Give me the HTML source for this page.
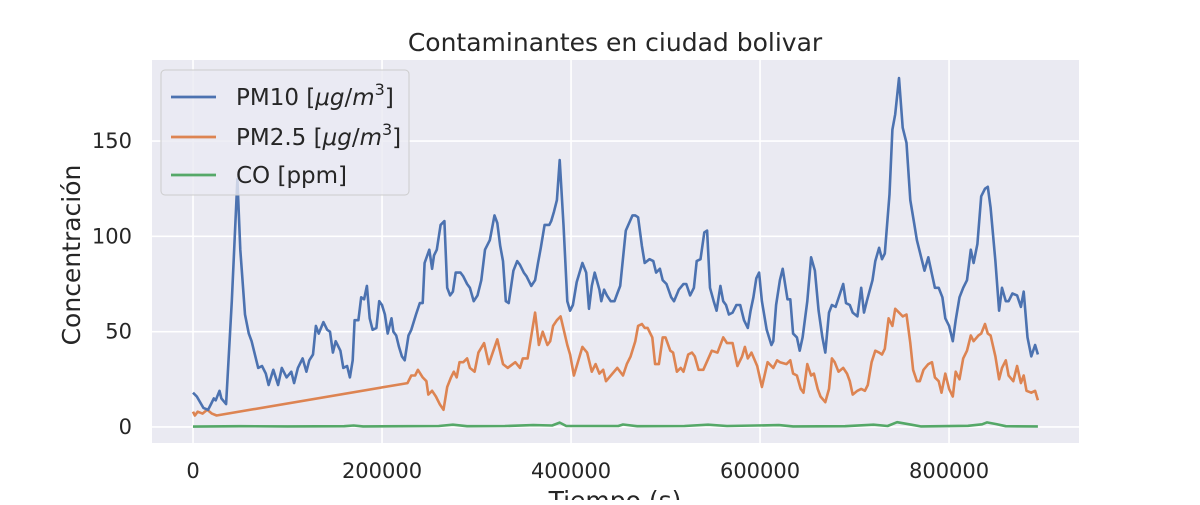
<!DOCTYPE html>
<html><head><meta charset="utf-8"><style>
body{margin:0;background:#fff;font-family:"Liberation Sans","DejaVu Sans",sans-serif}
svg text{font-family:"DejaVu Sans","Liberation Sans",sans-serif;fill:#262626}
</style></head><body>
<svg id="chart" width="1200" height="500" viewBox="0 0 1200 500" xmlns="http://www.w3.org/2000/svg">
<rect x="0" y="0" width="1200" height="500" fill="#fff"/>
<rect x="152" y="60" width="927" height="383" fill="#eaeaf2"/>
<g id="grid"></g>
<g id="ticks"></g>
<g id="series"></g>
<text x="615" y="51" text-anchor="middle" font-size="25">Contaminantes en ciudad bolivar</text>
<text x="80" y="255" text-anchor="middle" font-size="25" transform="rotate(-90 80 255)">Concentración</text>
<text x="615" y="509" text-anchor="middle" font-size="25">Tiempo (s)</text>
<g>
<rect x="161" y="70" width="248" height="125" rx="4" fill="#eaeaf2" fill-opacity="0.8" stroke="#cccccc" stroke-width="1"/>
<line x1="171" y1="97" x2="216" y2="97" stroke="#4c72b0" stroke-width="2.7"/>
<text x="236" y="105" font-size="23">PM10 [<tspan font-style="italic">μg</tspan>/<tspan font-style="italic">m</tspan><tspan font-size="16" dy="-10">3</tspan><tspan dy="10">]</tspan></text>
<line x1="171" y1="137" x2="216" y2="137" stroke="#dd8452" stroke-width="2.7"/>
<text x="236" y="145" font-size="23">PM2.5 [<tspan font-style="italic">μg</tspan>/<tspan font-style="italic">m</tspan><tspan font-size="16" dy="-10">3</tspan><tspan dy="10">]</tspan></text>
<line x1="171" y1="175" x2="216" y2="175" stroke="#55a868" stroke-width="2.7"/>
<text x="236" y="183" font-size="23">CO [ppm]</text>
</g>
</svg>
<script>
const xTicks=[0,200000,400000,600000,800000];
const yTicks=[0,50,100,150];
// times in thousands of seconds, values in concentration units
const pm10T=[0,4,11,16,19,22,24,28,30,35,41,47,50,55,59,62,69,73,77,80,85,90,94,99,104,107,111,116,120,123,127,130,133,138,142,145,148,151,156,159,163,166,169,171,175,178,181,184,187,190,194,197,200,203,206,210,212,215,218,221,224,228,231,236,240,243,245,250,253,255,258,262,266,269,272,275,278,283,286,290,293,297,301,305,309,314,319,322,325,328,331,334,339,343,346,350,353,358,362,365,368,372,377,379,382,385,388,392,396,399,402,406,412,416,419,422,425,430,432,435,438,442,446,449,452,458,465,468,471,475,478,483,487,490,494,497,501,506,509,514,519,522,526,530,533,537,541,544,547,551,554,558,561,564,567,571,575,579,583,587,590,593,596,599,602,607,612,614,617,621,624,629,632,635,639,642,645,650,654,658,662,666,669,673,676,680,684,688,691,695,698,703,707,710,713,719,722,726,729,732,737,740,743,747,751,755,759,763,766,770,774,778,782,785,789,793,796,800,804,807,811,815,819,823,826,830,834,838,841,844,849,853,856,860,863,867,872,876,879,883,887,891,894];
const pm10V=[18,16,10,9,12,15,14,19,15,12,66,130,93,59,49,45,31,32,28,22,30,22,31,26,29,23,31,36,29,35,38,53,49,55,51,50,39,45,40,31,32,26,35,56,56,68,67,74,57,51,52,66,64,59,49,57,50,48,42,37,35,48,51,59,65,65,86,93,83,90,93,106,108,73,69,71,81,81,79,75,73,66,69,77,93,98,111,107,95,87,66,65,82,87,85,81,79,74,77,86,94,106,106,108,113,119,140,106,66,61,64,76,86,81,62,74,81,72,66,72,69,66,66,70,74,103,111,111,110,95,86,88,87,81,83,77,75,68,66,72,75,75,69,73,87,88,102,103,73,66,61,74,66,64,59,60,64,64,56,52,61,68,78,81,66,51,43,45,64,77,83,67,67,49,47,40,47,66,89,82,61,47,39,60,64,63,69,75,65,64,60,58,73,60,66,77,87,94,88,91,122,156,164,183,157,149,119,107,98,90,82,89,80,73,73,68,57,53,45,56,68,73,77,93,86,96,121,125,126,115,87,61,73,66,66,70,69,63,71,47,37,43,38];
const pm25T=[0,2,5,10,15,20,25,227,231,235,238,243,247,249,253,257,261,265,269,273,276,279,282,286,290,293,298,302,308,313,322,328,333,341,346,349,354,362,366,370,375,378,381,385,389,396,399,403,412,417,422,426,430,434,437,449,455,459,463,468,471,475,478,481,486,489,493,497,500,505,508,512,516,519,524,528,531,535,540,549,555,561,565,571,576,581,584,587,591,597,602,608,614,618,621,628,632,635,639,643,646,650,654,657,661,664,669,673,676,679,683,688,692,695,698,703,707,711,714,718,722,726,729,732,736,740,743,747,751,755,759,762,766,769,773,778,782,785,789,792,796,800,804,807,811,815,819,823,826,831,834,838,841,844,849,853,856,860,863,868,872,876,879,882,887,891,894];
const pm25V=[8,6,8,7,9,7,6,23,27,27,30,26,24,17,19,16,12,9,21,26,29,26,34,34,36,31,29,39,44,33,46,33,31,34,31,36,36,60,43,50,43,45,53,56,58,43,38,27,42,39,29,33,28,30,24,31,27,33,37,45,53,54,52,52,47,33,33,47,47,40,39,29,31,29,38,39,37,30,30,40,39,47,44,44,32,37,42,36,39,32,21,34,31,35,34,33,35,28,27,20,18,33,27,28,20,16,13,20,36,34,29,31,28,24,17,19,20,19,22,34,40,39,38,41,57,53,62,60,58,59,44,30,24,24,30,33,34,26,24,18,28,20,16,29,25,36,40,48,45,48,49,54,49,48,37,25,31,35,27,24,32,23,27,19,18,19,14];
const coT=[0,50,100,160,170,180,260,275,290,330,360,380,388,395,450,455,470,520,545,565,620,635,690,720,735,745,760,770,820,835,840,850,860,894];
const coV=[0.2,0.4,0.3,0.4,0.8,0.3,0.5,1.2,0.4,0.5,1.0,0.8,2.3,0.5,0.5,1.3,0.4,0.5,1.2,0.5,1.0,0.3,0.4,1.2,0.5,2.5,1.2,0.3,0.6,1.4,2.4,1.5,0.4,0.3];

const NS='http://www.w3.org/2000/svg';
const L=152,R=1079,T=60,B=443;
const xMin=-43400,xMax=937500,yMin=-8.4,yMax=192.5;
function sx(v){return L+(v-xMin)/(xMax-xMin)*(R-L);}
function sy(v){return B-(v-yMin)/(yMax-yMin)*(B-T);}
const grid=document.getElementById('grid'),ticks=document.getElementById('ticks'),series=document.getElementById('series');
xTicks.forEach(t=>{
  const l=document.createElementNS(NS,'line');
  l.setAttribute('x1',sx(t));l.setAttribute('x2',sx(t));l.setAttribute('y1',T);l.setAttribute('y2',B);
  l.setAttribute('stroke','#fff');l.setAttribute('stroke-width','1.6');
  
  
  grid.appendChild(l);
  const tx=document.createElementNS(NS,'text');
  tx.setAttribute('x',sx(t));tx.setAttribute('y',478);tx.setAttribute('text-anchor','middle');tx.setAttribute('font-size','21');
  tx.textContent=String(t);
  
  
  ticks.appendChild(tx);
});
yTicks.forEach(t=>{
  const l=document.createElementNS(NS,'line');
  l.setAttribute('x1',L);l.setAttribute('x2',R);l.setAttribute('y1',sy(t));l.setAttribute('y2',sy(t));
  l.setAttribute('stroke','#fff');l.setAttribute('stroke-width','1.6');
  
  
  grid.appendChild(l);
  const tx=document.createElementNS(NS,'text');
  tx.setAttribute('x',132);tx.setAttribute('y',sy(t)+7);tx.setAttribute('text-anchor','end');tx.setAttribute('font-size','21');
  tx.textContent=String(t);
  
  
  ticks.appendChild(tx);
});
function draw(ts,vs,color,name){
  const p=document.createElementNS(NS,'polyline');
  p.setAttribute('points',ts.map((t,i)=>sx(t*1000).toFixed(1)+','+sy(vs[i]).toFixed(1)).join(' '));
  p.setAttribute('fill','none');p.setAttribute('stroke',color);p.setAttribute('stroke-width','2.6');p.setAttribute('stroke-linejoin','round');
  
  
  series.appendChild(p);
}
draw(coT,coV,'#55a868','co-line');
draw(pm25T,pm25V,'#dd8452','pm25-line');
draw(pm10T,pm10V,'#4c72b0','pm10-line');
</script>
</body></html>
